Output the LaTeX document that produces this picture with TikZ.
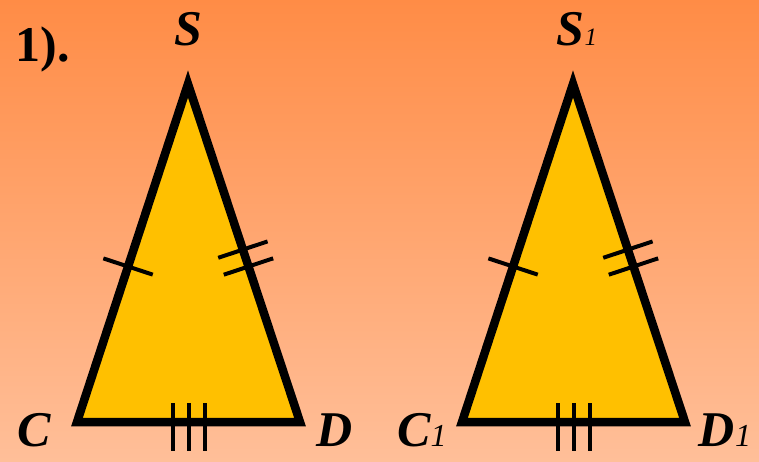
\documentclass[tikz,border=0pt]{standalone}
\usepackage{fontspec}
\setmainfont{Liberation Serif}
\usepackage{tikz}
\usetikzlibrary{calc}
\definecolor{bgtop}{HTML}{FF8C46}
\definecolor{bgbot}{HTML}{FFBF99}
\definecolor{tri}{HTML}{FFC000}

\tikzset{
  side/.style={draw=black,fill=tri,line width=8.5pt,miter limit=20},
  tick/.style={black,line width=4pt},
  vlabel/.style={font=\fontsize{50}{50}\selectfont\bfseries\itshape,inner sep=0pt,anchor=base},
}
\newcommand{\idx}[1]{{\fontsize{#1}{#1}\selectfont\mdseries 1}}

\begin{document}
\begin{tikzpicture}[x=1pt,y=-1pt]  % 1 unit = 1 px, y runs down
  \shade[top color=bgtop,bottom color=bgbot] (0,0) rectangle (759,462);
  \useasboundingbox (0,0) rectangle (759,462);
  \node[vlabel,font=\fontsize{50}{50}\selectfont\bfseries] (num) at (42.5,62) {1).};
  % ---- first triangle
  \coordinate (C) at (77,422);
  \coordinate (D) at (300,422);
  \coordinate (S) at (188,84);
  \draw[side] (C) -- (S) -- (D) -- cycle;
  \draw[tick] ($(C)!0.46!(S)!26pt!90:(S)$) -- ($(C)!0.46!(S)!26pt!-90:(S)$);
  \draw[tick] ($(D)!0.46!(S)!26pt!90:(S)$) -- ($(D)!0.46!(S)!26pt!-90:(S)$);
  \draw[tick] ($(D)!0.51!(S)!26pt!90:(S)$) -- ($(D)!0.51!(S)!26pt!-90:(S)$);
  \foreach \dx in {-16,0,16}
    \draw[tick] ($(C)!0.5!(D)+(\dx,-19)$) -- ++(0,48);
  \node[vlabel] (lS) at (188,46) {S};
  \node[vlabel] (lC) at (34.5,446) {C};
  \node[vlabel] (lD) at (335,446) {D};
  % ---- second triangle
  \coordinate (C1) at (462,422);
  \coordinate (D1) at (685,422);
  \coordinate (S1) at (573,84);
  \draw[side] (C1) -- (S1) -- (D1) -- cycle;
  \draw[tick] ($(C1)!0.46!(S1)!26pt!90:(S1)$) -- ($(C1)!0.46!(S1)!26pt!-90:(S1)$);
  \draw[tick] ($(D1)!0.46!(S1)!26pt!90:(S1)$) -- ($(D1)!0.46!(S1)!26pt!-90:(S1)$);
  \draw[tick] ($(D1)!0.51!(S1)!26pt!90:(S1)$) -- ($(D1)!0.51!(S1)!26pt!-90:(S1)$);
  \foreach \dx in {-16,0,16}
    \draw[tick] ($(C1)!0.5!(D1)+(\dx,-19)$) -- ++(0,48);
  \node[vlabel] (lS1) at (577,46) {S\idx{25}};
  \node[vlabel] (lC1) at (422,446) {C\idx{32}};
  \node[vlabel] (lD1) at (725,446) {D\idx{32}};
\end{tikzpicture}
\end{document}
